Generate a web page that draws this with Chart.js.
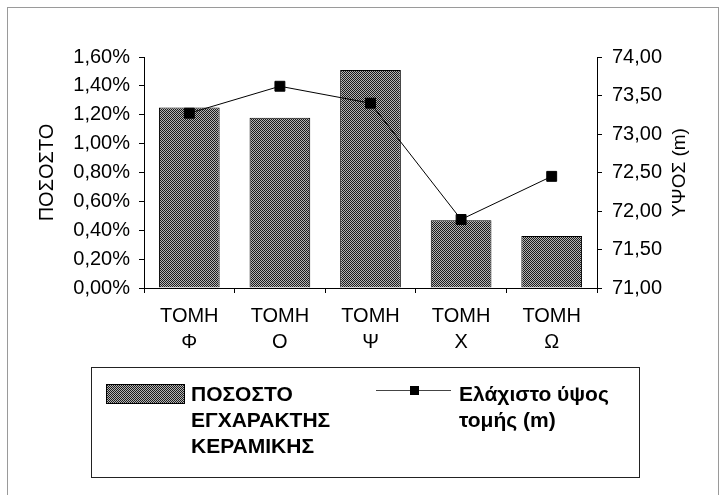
<!DOCTYPE html>
<html>
<head>
<meta charset="utf-8">
<script src="https://cdn.jsdelivr.net/npm/chart.js@4.4.1/dist/chart.umd.min.js"></script>
<style>
  body { margin: 0; background: #fff; }
  #wrap { position: relative; width: 724px; height: 495px; overflow: hidden; }
  #frame { position: absolute; left: 7px; top: 7px; width: 710px; height: 500px; border: 1px solid #9a9a9a; }
  #legend { position: absolute; left: 91px; top: 367px; width: 547px; height: 109px; border: 1px solid #222;
            font: bold 21px "Liberation Sans", Arial, sans-serif; line-height: 26px; color: #000; }
  #legend .txt { position: absolute; top: 13px; }
  #barSwatch { position: absolute; left: 14px; top: 16px; width: 77px; height: 18px; border: 1px solid #000; }
  #lineSwatch { position: absolute; left: 284px; top: 22px; width: 75px; height: 1px; background: #444; }
  #lineSwatch span { position: absolute; left: 34px; top: -4px; width: 9px; height: 9px; background: #000; }
</style>
</head>
<body>
<div id="wrap">
  <canvas id="chart" width="724" height="495"></canvas>
  <div id="frame"></div>
  <div id="legend">
    <div id="barSwatch"></div>
    <div class="txt" style="left:99px">ΠΟΣΟΣΤΟ<br>ΕΓΧΑΡΑΚΤΗΣ<br>ΚΕΡΑΜΙΚΗΣ</div>
    <div id="lineSwatch"><span></span></div>
    <div class="txt" style="left:367px">Ελάχιστο ύψος<br>τομής (m)</div>
  </div>
</div>
<script>
// categories and values
const categories = [['ΤΟΜΗ', 'Φ'], ['ΤΟΜΗ', 'Ο'], ['ΤΟΜΗ', 'Ψ'], ['ΤΟΜΗ', 'Χ'], ['ΤΟΜΗ', 'Ω']];
const percentValues = [1.25, 1.18, 1.51, 0.47, 0.36];
const heightValues = [73.27, 73.62, 73.40, 71.89, 72.45];
const barLabel = ['ΠΟΣΟΣΤΟ', 'ΕΓΧΑΡΑΚΤΗΣ', 'ΚΕΡΑΜΙΚΗΣ'];
const lineLabel = ['Ελάχιστο ύψος', 'τομής (m)'];

const fontFamily = '"Liberation Sans", Arial, sans-serif';

// dotted grey fill like the printed original
function makePattern() {
  const c = document.createElement('canvas');
  c.width = 2; c.height = 2;
  const p = c.getContext('2d');
  p.fillStyle = '#b4b4b4';
  p.fillRect(0, 0, 2, 2);
  p.fillStyle = '#1a1a1a';
  p.fillRect(0, 0, 1, 1);
  p.fillRect(1, 1, 1, 1);
  return c;
}

const patternCanvas = makePattern();
const ctx = document.getElementById('chart').getContext('2d');
const barFill = ctx.createPattern(patternCanvas, 'repeat');
document.getElementById('barSwatch').style.backgroundImage = 'url(' + patternCanvas.toDataURL() + ')';

const comma = (v, d) => v.toFixed(d).replace('.', ',');

// right axis title reads bottom-to-top in the original
const rightTitle = {
  id: 'rightTitle',
  afterDraw(chart) {
    const c = chart.ctx;
    const area = chart.chartArea;
    c.save();
    c.translate(680, (area.top + area.bottom) / 2);
    c.rotate(-Math.PI / 2);
    c.font = '19px ' + fontFamily;
    c.fillStyle = '#000';
    c.textAlign = 'center';
    c.textBaseline = 'middle';
    c.fillText('ΥΨΟΣ (m)', 0, 0);
    c.restore();
  }
};

new Chart(ctx, {
  type: 'bar',
  data: {
    labels: categories,
    datasets: [
      {
        type: 'line',
        label: lineLabel,
        data: heightValues,
        yAxisID: 'y1',
        borderColor: '#000',
        borderWidth: 1,
        pointStyle: 'rect',
        pointRadius: 7,
        pointBackgroundColor: '#000',
        pointBorderColor: '#000',
        tension: 0,
        order: 0
      },
      {
        label: barLabel,
        data: percentValues,
        yAxisID: 'y',
        backgroundColor: barFill,
        borderColor: '#000',
        borderWidth: 1,
        categoryPercentage: 1,
        barPercentage: 0.67,
        order: 1
      }
    ]
  },
  options: {
    responsive: false,
    animation: false,
    layout: {
      padding: { left: 0, right: 0, top: 57, bottom: 147 }
    },
    plugins: {
      legend: { display: false },
      tooltip: { enabled: false }
    },
    scales: {
      x: {
        grid: { display: true, drawOnChartArea: false, offset: true, tickLength: 5, color: '#000' },
        border: { color: '#000' },
        ticks: {
          color: '#000',
          padding: 10,
          maxRotation: 0,
          font: { family: fontFamily, size: 20, lineHeight: 1.3 }
        },
        afterFit: function (scale) { scale.height = 60; }
      },
      y: {
        position: 'left',
        min: 0,
        max: 1.6,
        grid: { drawOnChartArea: false, tickLength: 5, color: '#000' },
        border: { color: '#000' },
        ticks: {
          stepSize: 0.2,
          color: '#000',
          padding: 9,
          font: { family: fontFamily, size: 20 },
          callback: function (value) { return comma(value, 2) + '%'; }
        },
        title: {
          display: true,
          text: 'ΠΟΣΟΣΤΟ',
          color: '#000',
          padding: { top: 35, bottom: 0 },
          font: { family: fontFamily, size: 20 }
        },
        afterFit: function (scale) { scale.width = 144; }
      },
      y1: {
        position: 'right',
        min: 71,
        max: 74,
        grid: { drawOnChartArea: false, tickLength: 5, color: '#000' },
        border: { color: '#000' },
        ticks: {
          stepSize: 0.5,
          color: '#000',
          padding: 10,
          font: { family: fontFamily, size: 20 },
          callback: function (value) { return comma(value, 2); }
        },
        afterFit: function (scale) { scale.width = 127; }
      }
    }
  },
  plugins: [rightTitle]
});
</script>
</body>
</html>
